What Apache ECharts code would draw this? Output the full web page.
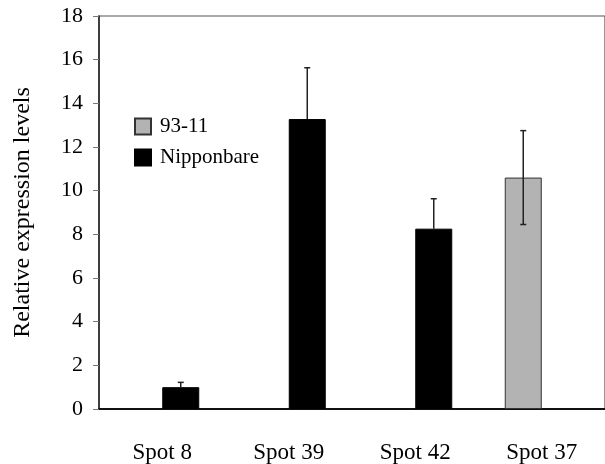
<!DOCTYPE html>
<html><head><meta charset="utf-8">
<script src="https://cdn.jsdelivr.net/npm/echarts@6/dist/echarts.min.js"></script>
<style>html,body{margin:0;padding:0;background:#fff}#c{width:605px;height:464px}</style>
</head><body><div id="c"></div>
<script>
const categories = ['Spot 8', 'Spot 39', 'Spot 42', 'Spot 37'];
const values9311 = [null, null, null, 10.6];
const err9311 = [null, null, null, 2.15];
const valuesNip = [1.0, 13.28, 8.26, null];
const errNip = [0.22, 2.35, 1.37, null];
const yTicks = { min: 0, max: 18, interval: 2 };

const FONT = '"Liberation Serif", "Times New Roman", serif';
const BARW = 37;

function errSeries(name, vals, errs, dir, showLower) {
  const data = [];
  vals.forEach((v, i) => { if (v != null) data.push([i, v, errs[i]]); });
  return {
    type: 'custom', name: name + ' err', silent: true, z: 5,
    renderItem: function (params, api) {
      const i = api.value(0), v = api.value(1), e = api.value(2);
      const pc = api.coord([i, v]);
      const x = pc[0] + dir * BARW / 2;
      const top = api.coord([i, v + e])[1];
      const bot = showLower ? api.coord([i, v - e])[1] : pc[1];
      const st = { stroke: '#222', lineWidth: 1.5 };
      const ch = [
        { type: 'line', shape: { x1: x, y1: top, x2: x, y2: bot }, style: st },
        { type: 'line', shape: { x1: x - 3, y1: top, x2: x + 3, y2: top }, style: st }
      ];
      if (showLower) ch.push({ type: 'line', shape: { x1: x - 3, y1: bot, x2: x + 3, y2: bot }, style: st });
      return { type: 'group', children: ch };
    },
    data: data
  };
}

const chart = echarts.init(document.getElementById('c'));
chart.setOption({
  animation: false,
  grid: { left: 99, top: 16, width: 508, height: 393, show: true, borderColor: '#555', borderWidth: 1.2, backgroundColor: 'transparent' },
  legend: {
    orient: 'vertical', left: 134, top: 116, padding: 0, itemWidth: 16, itemHeight: 16, itemGap: 10,
    icon: 'rect',
    textStyle: { fontFamily: FONT, fontSize: 21, color: '#000', padding: [0, 0, 0, 4] },
    data: ['93-11', 'Nipponbare']
  },
  xAxis: {
    type: 'category', data: categories,
    axisLine: { lineStyle: { color: '#111', width: 2 } },
    axisTick: { inside: true, length: 9, lineStyle: { color: '#333', width: 1.5 } },
    axisLabel: { fontFamily: FONT, fontSize: 23, color: '#000', margin: 32 },
    splitLine: { show: false }
  },
  yAxis: {
    type: 'value', min: yTicks.min, max: yTicks.max, interval: yTicks.interval,
    name: 'Relative expression levels', nameLocation: 'middle', nameGap: 64,
    nameTextStyle: { fontFamily: FONT, fontSize: 24, color: '#000' },
    axisLine: { show: true, lineStyle: { color: '#222', width: 1.5 } },
    axisTick: { show: true, inside: false, length: 6, lineStyle: { color: '#777', width: 1 } },
    axisLabel: { fontFamily: FONT, fontSize: 22, color: '#000', margin: 16 },
    splitLine: { show: false }
  },
  series: [
    { name: '93-11', type: 'bar', data: values9311, barWidth: BARW, barGap: '0%',
      itemStyle: { color: '#b3b3b3', borderColor: '#333', borderWidth: 1 } },
    { name: 'Nipponbare', type: 'bar', data: valuesNip, barWidth: BARW, barGap: '0%',
      itemStyle: { color: '#000', borderColor: '#000', borderWidth: 1 } },
    errSeries('93-11', values9311, err9311, -1, true),
    errSeries('Nipponbare', valuesNip, errNip, 1, false)
  ]
});
</script></body></html>
